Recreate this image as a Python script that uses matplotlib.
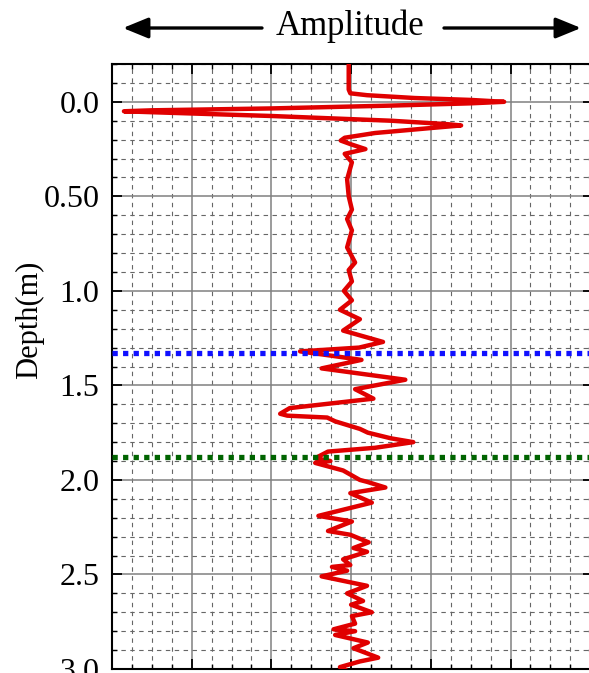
import numpy as np
import matplotlib
matplotlib.use("Agg")
import matplotlib.pyplot as plt
from matplotlib.patches import FancyArrowPatch
from matplotlib.ticker import MultipleLocator, FixedLocator

plt.rcParams['font.family'] = ['Liberation Serif', 'DejaVu Serif']

# trace samples (amplitude, depth in m)
amp = [-0.03, -0.03, -0.01, 0.2, 0.8, 1.5, 1.92, 1.5, 0.5, -1.0, -2.5, -2.85,
       -2.5, -1.0, 0.5, 1.2, 1.38, 1.1, 0.3, -0.08, -0.13, 0.0, 0.18, -0.08,
       0.01, -0.05, -0.03, 0.01, -0.05, 0.01, -0.05, 0.05, -0.03, 0.01, -0.09,
       0.01, -0.14, 0.11, -0.10, 0.40, 0.1, -0.64, 0.13, -0.37, 0.68, 0.05,
       0.28, -0.77, -0.89, -0.80, -0.30, -0.2, 0.11, 0.21, 0.5, 0.78, 0.3,
       -0.29, -0.45, -0.26, -0.45, -0.10, 0.11, 0.2, 0.43, -0.01, 0.26, -0.41,
       0.01, -0.29, -0.01, 0.22, 0.03, 0.20, -0.10, -0.01, -0.24, -0.05, -0.37,
       0.20, -0.05, 0.15, 0.0, 0.26, 0.01, 0.05, -0.22, 0.05, -0.2, 0.21, 0.03,
       0.34, 0.11, -0.14, -0.05]
depth = [-0.21, -0.065, -0.045, -0.035, -0.02, -0.01, 0.0, 0.008, 0.02, 0.035,
         0.045, 0.05, 0.055, 0.075, 0.1, 0.118, 0.125, 0.135, 0.165, 0.19,
         0.205, 0.225, 0.25, 0.275, 0.32, 0.41, 0.5, 0.57, 0.62, 0.68, 0.77,
         0.85, 0.89, 0.95, 1.0, 1.05, 1.10, 1.15, 1.21, 1.27, 1.30, 1.32, 1.365,
         1.41, 1.47, 1.52, 1.57, 1.62, 1.65, 1.66, 1.67, 1.69, 1.73, 1.75, 1.78,
         1.80, 1.83, 1.85, 1.885, 1.90, 1.91, 1.95, 2.0, 2.01, 2.04, 2.07, 2.12,
         2.19, 2.22, 2.27, 2.29, 2.33, 2.36, 2.38, 2.42, 2.45, 2.46, 2.48, 2.51,
         2.56, 2.60, 2.64, 2.66, 2.70, 2.72, 2.76, 2.79, 2.80, 2.82, 2.86, 2.89,
         2.94, 2.96, 2.99, 3.01]

# interface depths
top_depth = 1.327
bottom_depth = 1.877

yticks = [0.0, 0.5, 1.0, 1.5, 2.0, 2.5, 3.0]
ytick_labels = ['0.0', '0.50', '1.0', '1.5', '2.0', '2.5', '3.0']

fig = plt.figure(figsize=(5.89, 6.73), dpi=100)
# right edge sits just past the canvas
ax = fig.add_axes([112/589, 1 - 669/673, 480.6/589, 605/673])

ax.plot(amp, depth, color='#e00000', linewidth=3.2, zorder=3,
        solid_joinstyle='round', solid_capstyle='round')

ax.axhline(top_depth, color='#1010ff', linewidth=3.8, linestyle=(0, (1, 1.0)),
           dash_capstyle='butt', zorder=4)
ax.axhline(bottom_depth, color='#006400', linewidth=3.8, linestyle=(0, (1, 1.0)),
           dash_capstyle='butt', zorder=4)

ax.set_xlim(-3, 3.03)
ax.set_ylim(3.0, -0.2)

ax.xaxis.set_major_locator(MultipleLocator(1))
ax.xaxis.set_minor_locator(MultipleLocator(0.25))
ax.yaxis.set_major_locator(FixedLocator(yticks))
ax.yaxis.set_minor_locator(MultipleLocator(0.1))
ax.set_yticklabels(ytick_labels)
ax.set_xticklabels([])

ax.grid(which='major', color='#808080', linestyle='-', linewidth=1.1, zorder=1)
ax.grid(which='minor', color='#666666', linestyle=(0, (4, 4)), linewidth=0.8, zorder=1)
ax.set_axisbelow(True)

ax.tick_params(which='both', direction='in', top=True, right=True, labelsize=23,
               pad=9, color='black')
ax.tick_params(which='major', length=7, width=1.3)
ax.tick_params(which='minor', length=3.5, width=1.0)
for s in ax.spines.values():
    s.set_linewidth(1.5)
    s.set_color('black')

fig.text(29.5/589, 1 - 320/673, 'Depth(m)', rotation=90, fontsize=22,
         ha='center', va='center')

# title with arrows on both sides
fig.text(350/589, 1 - 26/673, 'Amplitude', fontsize=25, ha='center', va='center')
for x0, x1 in [(262, 123), (444, 581)]:
    fig.add_artist(FancyArrowPatch(
        (x0/589, 1 - 28/673), (x1/589, 1 - 28/673), transform=fig.transFigure,
        arrowstyle='-|>,head_length=1.1,head_width=0.45', mutation_scale=14,
        color='black', linewidth=2.4, shrinkA=0, shrinkB=0))

fig.savefig('out.png', dpi=100)
